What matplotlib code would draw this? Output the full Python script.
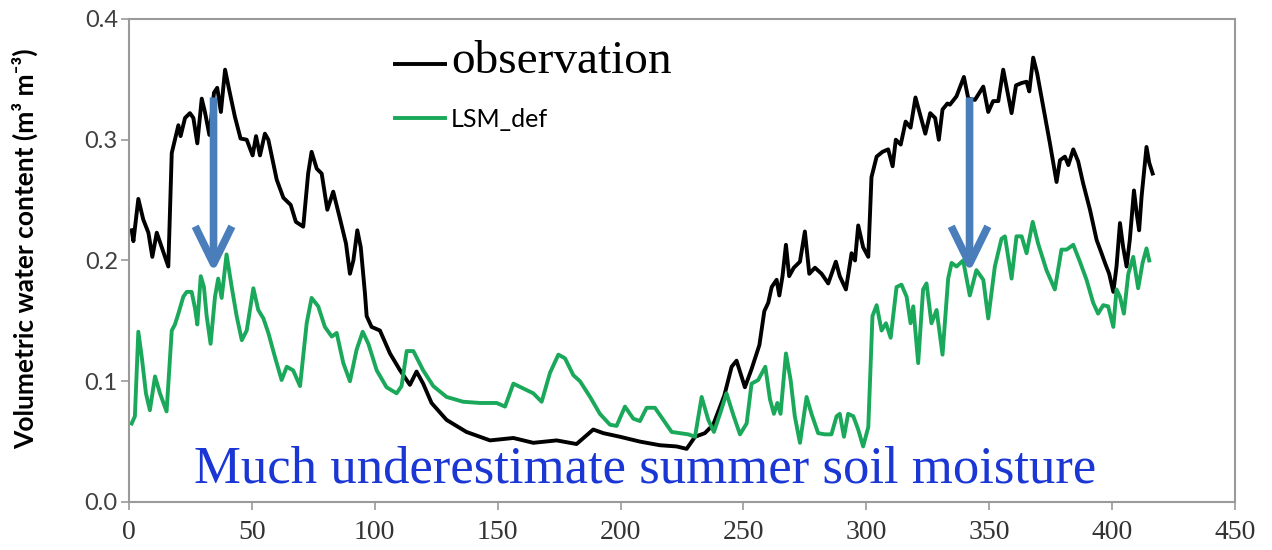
import matplotlib
matplotlib.use("Agg")
import matplotlib.pyplot as plt

# observed soil moisture (day, m3/m3)
obs_day = [1.1, 1.8, 3.8, 5.8, 7.9, 9.5, 11.3, 13.3, 16.0, 17.4, 18.7, 20.1, 21.0, 22.8, 24.8,
           26.2, 27.8, 29.6, 30.9, 32.7, 34.6, 35.9, 37.4, 39.1, 40.8, 43.1, 45.4, 47.9, 50.3,
           51.7, 53.3, 55.3, 56.7, 60.1, 62.8, 65.8, 67.9, 70.9, 72.9, 74.3, 76.4, 78.4, 80.7,
           83.1, 85.8, 88.3, 89.9, 91.3, 92.9, 94.3, 96.0, 96.7, 98.7, 102.1, 106.2, 110.3,
           114.3, 117.0, 119.7, 123.1, 129.2, 137.3, 146.9, 156.4, 164.5, 174.0, 182.1, 188.9,
           193.0, 199.8, 207.9, 216.0, 222.8, 226.9, 230.3, 234.3, 237.7, 242.2, 245.2, 247.2,
           250.6, 253.3, 256.5, 258.5, 260.1, 261.5, 263.5, 264.6, 265.9, 267.3, 268.6, 270.5,
           273.0, 275.0, 276.8, 279.1, 281.8, 284.5, 287.6, 289.2, 291.7, 294.0, 295.4, 296.7,
           298.7, 300.8, 302.1, 304.2, 306.6, 308.9, 310.7, 312.0, 314.0, 316.0, 318.0, 320.0,
           322.0, 324.0, 326.0, 328.0, 329.5, 331.0, 333.0, 334.0, 336.7, 339.7, 341.5, 344.2,
           347.6, 349.6, 351.6, 353.7, 355.7, 357.3, 359.1, 360.9, 363.2, 365.2, 366.3, 367.9,
           369.5, 372.0, 374.7, 377.4, 378.8, 380.8, 382.2, 384.2, 386.2, 388.2, 391.0, 393.7,
           395.7, 397.1, 398.8, 400.5, 401.8, 403.2, 404.5, 405.9, 407.2, 408.9, 410.0, 411.0,
           412.0, 414.0, 415.1, 416.5]
obs_vwc = [0.225, 0.216, 0.251, 0.234, 0.223, 0.203, 0.223, 0.211, 0.195, 0.289, 0.300, 0.312,
           0.303, 0.318, 0.322, 0.318, 0.297, 0.334, 0.323, 0.304, 0.339, 0.343, 0.323, 0.358,
           0.341, 0.319, 0.301, 0.300, 0.287, 0.303, 0.287, 0.305, 0.300, 0.267, 0.252, 0.246,
           0.232, 0.228, 0.272, 0.290, 0.276, 0.272, 0.242, 0.257, 0.235, 0.214, 0.189, 0.200,
           0.225, 0.211, 0.173, 0.154, 0.145, 0.142, 0.123, 0.109, 0.097, 0.108, 0.098, 0.082,
           0.068, 0.058, 0.051, 0.053, 0.049, 0.051, 0.048, 0.060, 0.057, 0.054, 0.050, 0.047,
           0.046, 0.044, 0.054, 0.057, 0.064, 0.088, 0.112, 0.117, 0.095, 0.110, 0.130, 0.158,
           0.165, 0.178, 0.184, 0.171, 0.187, 0.213, 0.187, 0.194, 0.199, 0.224, 0.189, 0.194,
           0.189, 0.181, 0.199, 0.187, 0.176, 0.206, 0.200, 0.229, 0.211, 0.203, 0.269, 0.286,
           0.290, 0.292, 0.278, 0.300, 0.296, 0.315, 0.310, 0.335, 0.320, 0.305, 0.322, 0.318,
           0.300, 0.325, 0.330, 0.329, 0.336, 0.352, 0.334, 0.333, 0.344, 0.323, 0.332, 0.332,
           0.358, 0.341, 0.322, 0.345, 0.347, 0.348, 0.340, 0.368, 0.355, 0.327, 0.297, 0.265,
           0.283, 0.286, 0.279, 0.292, 0.282, 0.264, 0.242, 0.217, 0.206, 0.198, 0.189, 0.174,
           0.195, 0.231, 0.211, 0.195, 0.217, 0.258, 0.239, 0.225, 0.253, 0.294, 0.281, 0.272]

# LSM default run
lsm_day = [1.1, 2.4, 3.8, 5.2, 6.9, 8.5, 10.6, 12.6, 15.3, 17.4, 18.7, 20.1, 22.1, 23.5, 25.5,
           26.9, 27.8, 29.2, 30.5, 31.6, 33.2, 35.0, 36.3, 37.7, 39.7, 41.8, 43.8, 45.9, 47.9,
           50.6, 52.6, 54.7, 56.7, 59.4, 62.1, 64.2, 66.8, 69.6, 72.3, 74.3, 77.0, 79.7, 82.5,
           84.5, 87.2, 89.9, 92.6, 95.1, 97.4, 100.8, 104.8, 108.9, 110.9, 113.0, 115.7, 119.7,
           123.8, 129.2, 136.0, 142.8, 149.6, 153.0, 156.4, 160.5, 164.5, 167.9, 171.3, 174.7,
           177.4, 180.8, 183.5, 187.6, 191.6, 195.7, 198.4, 201.8, 205.2, 207.9, 210.6, 214.0,
           217.4, 220.8, 224.2, 227.6, 230.3, 233.0, 235.7, 238.0, 240.8, 243.1, 245.9, 248.6,
           251.3, 253.3, 256.0, 258.9, 260.8, 262.4, 263.8, 265.1, 267.3, 269.2, 270.9, 273.0,
           275.7, 277.7, 280.4, 283.2, 285.8, 287.9, 289.2, 290.9, 292.6, 294.7, 296.7, 298.7,
           300.8, 302.5, 304.2, 306.2, 308.0, 309.9, 312.3, 314.3, 316.4, 318.0, 319.1, 321.1,
           323.1, 324.5, 326.5, 328.6, 331.0, 333.3, 334.7, 336.7, 339.4, 342.1, 344.8, 347.6,
           349.6, 352.3, 355.0, 356.4, 359.1, 361.1, 363.2, 365.2, 367.7, 369.9, 373.3, 376.7,
           379.4, 381.5, 384.2, 386.9, 389.6, 392.3, 394.3, 396.4, 398.4, 400.5, 401.8, 403.2,
           404.8, 406.6, 408.6, 410.6, 412.4, 414.0, 415.1]
lsm_vwc = [0.065, 0.071, 0.141, 0.120, 0.090, 0.076, 0.104, 0.090, 0.075, 0.142, 0.147, 0.156,
           0.170, 0.174, 0.174, 0.160, 0.147, 0.187, 0.178, 0.154, 0.131, 0.170, 0.185, 0.169,
           0.205, 0.178, 0.154, 0.134, 0.142, 0.177, 0.159, 0.152, 0.140, 0.120, 0.101, 0.112,
           0.109, 0.096, 0.148, 0.169, 0.162, 0.145, 0.137, 0.140, 0.115, 0.100, 0.126, 0.141,
           0.131, 0.109, 0.095, 0.090, 0.096, 0.125, 0.125, 0.109, 0.096, 0.087, 0.083, 0.082,
           0.082, 0.079, 0.098, 0.094, 0.090, 0.083, 0.107, 0.122, 0.119, 0.105, 0.100, 0.087,
           0.073, 0.064, 0.063, 0.079, 0.069, 0.067, 0.078, 0.078, 0.068, 0.058, 0.057, 0.056,
           0.054, 0.087, 0.068, 0.058, 0.075, 0.090, 0.072, 0.056, 0.065, 0.098, 0.101, 0.112,
           0.085, 0.073, 0.082, 0.073, 0.123, 0.101, 0.071, 0.049, 0.087, 0.073, 0.057, 0.056,
           0.056, 0.071, 0.073, 0.054, 0.073, 0.071, 0.060, 0.046, 0.062, 0.154, 0.163, 0.142,
           0.148, 0.136, 0.178, 0.180, 0.170, 0.148, 0.162, 0.115, 0.176, 0.181, 0.148, 0.159,
           0.122, 0.185, 0.198, 0.195, 0.200, 0.171, 0.192, 0.184, 0.152, 0.195, 0.218, 0.220,
           0.185, 0.220, 0.220, 0.206, 0.232, 0.214, 0.192, 0.176, 0.209, 0.209, 0.213, 0.199,
           0.184, 0.165, 0.156, 0.163, 0.162, 0.145, 0.176, 0.170, 0.156, 0.189, 0.203, 0.177,
           0.198, 0.210, 0.200]

# summer drops marked with arrows: (day, from, to)
arrow_day = [34.4, 342.0]
arrow_top = [0.335, 0.335]
arrow_tip = [0.190, 0.190]

fig = plt.figure(figsize=(12.72, 5.5), dpi=100)
ax = fig.add_axes([0.1014, 0.0873, 0.8695, 0.8782])

l1, = ax.plot(obs_day, obs_vwc, color='black', lw=2.8, solid_joinstyle='round')
l2, = ax.plot(lsm_day, lsm_vwc, color='#1aa85a', lw=2.8, solid_joinstyle='round')

for d, y0, y1 in zip(arrow_day, arrow_top, arrow_tip):
    ax.annotate('', xy=(d, y1), xytext=(d, y0),
                arrowprops=dict(arrowstyle='->,head_length=0.45,head_width=0.22',
                                mutation_scale=60, lw=5.5, color='#4a7ebb',
                                shrinkA=0, shrinkB=0, capstyle='butt'))

ax.set_xlim(0, 450)
ax.set_ylim(0, 0.4)
ax.set_xticks(range(0, 451, 50))
ax.set_yticks([0.0, 0.1, 0.2, 0.3, 0.4])
ax.set_yticklabels(['0.0', '0.1', '0.2', '0.3', '0.4'])

for s in ax.spines.values():
    s.set_color('#9a9a9a')
    s.set_linewidth(1.5)
ax.tick_params(axis='both', direction='out', length=6, width=1.2, color='#9a9a9a')
ax.tick_params(axis='y', pad=2, labelsize=17, labelcolor='#404040')
ax.tick_params(axis='x', pad=7, labelsize=20, labelcolor='#333333')
for t in ax.get_yticklabels():
    t.set_family('Lato')
for t in ax.get_xticklabels():
    t.set_family('Liberation Serif')

ax.set_ylabel('Volumetric water content (m³ m⁻³)', family=['Lato', 'DejaVu Sans'],
              fontsize=19, fontweight='bold')
ax.yaxis.set_label_coords(-0.082, 0.525)

ax.text(210, 0.016, 'Much underestimate summer soil moisture', family='Liberation Serif',
        fontsize=38, color='#1a36d4', ha='center', va='baseline')

leg = ax.legend([l1, l2], ['observation', 'LSM_def'], loc='upper left',
                bbox_to_anchor=(0.2405, 0.955), frameon=False, borderpad=0,
                borderaxespad=0, handlelength=2.0, handletextpad=0.25,
                labelspacing=1.0, prop={'family': 'Lato', 'size': 18})
txt = leg.get_texts()
txt[0].set_family('Liberation Serif')
txt[0].set_fontsize(34)

fig.savefig('out.png', dpi=100)
